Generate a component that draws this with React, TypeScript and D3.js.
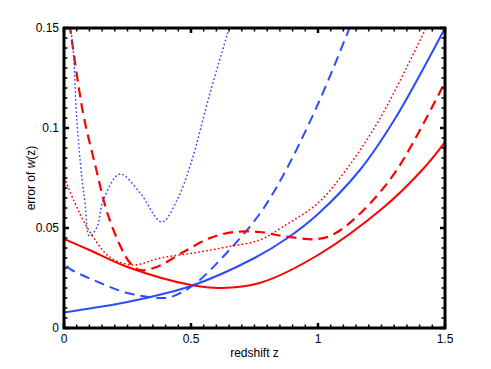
import React, { useEffect } from "react";
import * as d3 from "d3";

const W = 491;
const H = 369;
const margin = { left: 64, right: 46, top: 28, bottom: 41 };

// [redshift z, error of w(z)]
const blueSolid: [number, number][] = [
  [0, 0.0077], [0.1, 0.0098], [0.25, 0.013], [0.5, 0.021], [0.75, 0.035], [0.88, 0.045],
  [1.0, 0.057], [1.165, 0.079], [1.3, 0.104], [1.5, 0.15],
];
const redSolid: [number, number][] = [
  [0, 0.0445], [0.1, 0.039], [0.25, 0.0305], [0.5, 0.0215], [0.62, 0.02], [0.77, 0.0225],
  [1.0, 0.0365], [1.26, 0.0605], [1.41, 0.079], [1.5, 0.093],
];
const blueDashed: [number, number][] = [
  [0, 0.0], [0.004, 0.031], [0.03, 0.029], [0.115, 0.024], [0.25, 0.0175], [0.37, 0.015],
  [0.42, 0.0155], [0.51, 0.0215], [0.64, 0.0375], [0.77, 0.057], [0.87, 0.078],
  [1.0, 0.112], [1.11, 0.1455], [1.13, 0.152],
];
const redDashed: [number, number][] = [
  [0.022, 0.152], [0.075, 0.1075], [0.12, 0.083], [0.18, 0.054], [0.26, 0.0325], [0.3, 0.029],
  [0.365, 0.0305], [0.47, 0.038], [0.575, 0.045], [0.67, 0.048], [0.77, 0.048], [0.86, 0.046],
  [1.0, 0.0445], [1.07, 0.0475], [1.18, 0.059], [1.31, 0.079], [1.5, 0.123],
];
const redDotted: [number, number][] = [
  [0, 0.077], [0.006, 0.074], [0.063, 0.057], [0.115, 0.0455], [0.18, 0.0355], [0.27, 0.0315],
  [0.38, 0.035], [0.51, 0.0375], [0.64, 0.0405], [0.77, 0.044], [0.86, 0.0505], [1.0, 0.0625],
  [1.11, 0.079], [1.245, 0.105], [1.425, 0.15],
];
const blueDotted: [number, number][] = [
  [0.025, 0.152], [0.037, 0.1375], [0.05, 0.105], [0.07, 0.0755], [0.083, 0.0625], [0.1, 0.046],
  [0.13, 0.0505], [0.155, 0.064], [0.22, 0.077], [0.3, 0.0675], [0.385, 0.053], [0.445, 0.064],
  [0.5, 0.0825], [0.575, 0.1175], [0.655, 0.152],
];

const xTicks = [0, 0.5, 1, 1.5];
const xTickLabels = ["0", "0.5", "1", "1.5"];
const yTicks = [0, 0.05, 0.1, 0.15];
const yTickLabels = ["0", "0.05", "0.1", "0.15"];

const RED = "#ff0000";
const BLUE = "#2b4cff";

const series = [
  { data: blueSolid, color: BLUE, dash: "", width: 2, dotted: false },
  { data: redSolid, color: RED, dash: "", width: 2, dotted: false },
  { data: blueDashed, color: BLUE, dash: "10,6", width: 2, dotted: false },
  { data: redDashed, color: RED, dash: "10,6", width: 2.2, dotted: false },
  { data: redDotted, color: RED, dash: "0.3,3.7", width: 1.6, dotted: true },
  { data: blueDotted, color: BLUE, dash: "0.3,3.7", width: 1.6, dotted: true },
];

export default function App() {
  useEffect(() => {
    document.body.style.margin = "0";
  }, []);

  const x = d3.scaleLinear().domain([0, 1.5]).range([margin.left, W - margin.right]);
  const y = d3.scaleLinear().domain([0, 0.15]).range([H - margin.bottom, margin.top]);
  const line = d3
    .line<[number, number]>()
    .x((d) => x(d[0]))
    .y((d) => y(d[1]))
    .curve(d3.curveCatmullRom.alpha(0.5));

  const x0 = x(0), x1 = x(1.5), y0 = y(0), y1 = y(0.15);
  const xMinor = d3.range(0, 1.5001, 0.05);
  const yMinor = d3.range(0, 0.15001, 0.005);
  const font = "'Liberation Sans', Arial, sans-serif";

  return (
    <svg width={W} height={H} style={{ display: "block", background: "#fff" }}>
      <defs>
        <clipPath id="plot">
          <rect x={x0} y={y1} width={x1 - x0} height={y0 - y1} />
        </clipPath>
      </defs>
      <g clipPath="url(#plot)">
        {series.map((s, i) => (
          <path
            key={i}
            d={line(s.data) || ""}
            fill="none"
            stroke={s.color}
            strokeWidth={s.width}
            strokeDasharray={s.dash || undefined}
            strokeLinecap={s.dotted ? "round" : "butt"}
          />
        ))}
      </g>
      {/* minor ticks */}
      <g stroke="#000" strokeWidth={1.5}>
        {xMinor.map((t, i) => (
          <g key={"xm" + i}>
            <line x1={x(t)} x2={x(t)} y1={y0} y2={y0 - 3.5} />
            <line x1={x(t)} x2={x(t)} y1={y1} y2={y1 + 3.5} />
          </g>
        ))}
        {yMinor.map((t, i) => (
          <g key={"ym" + i}>
            <line x1={x0} x2={x0 + 3.5} y1={y(t)} y2={y(t)} />
            <line x1={x1} x2={x1 - 3.5} y1={y(t)} y2={y(t)} />
          </g>
        ))}
      </g>
      {/* major ticks */}
      <g stroke="#000" strokeWidth={2.5}>
        {xTicks.map((t, i) => (
          <g key={"xM" + i}>
            <line x1={x(t)} x2={x(t)} y1={y0} y2={y0 - 5} />
            <line x1={x(t)} x2={x(t)} y1={y1} y2={y1 + 5} />
          </g>
        ))}
        {yTicks.map((t, i) => (
          <g key={"yM" + i}>
            <line x1={x0} x2={x0 + 5} y1={y(t)} y2={y(t)} />
            <line x1={x1} x2={x1 - 5} y1={y(t)} y2={y(t)} />
          </g>
        ))}
      </g>
      <rect x={x0} y={y1} width={x1 - x0} height={y0 - y1} fill="none" stroke="#000" strokeWidth={3} />
      <g fontFamily={font} fontSize={12} fill="#000">
        {xTicks.map((t, i) => (
          <text key={"xl" + i} x={x(t)} y={y0 + 15} textAnchor="middle">
            {xTickLabels[i]}
          </text>
        ))}
        {yTicks.map((t, i) => (
          <text key={"yl" + i} x={x0 - 5} y={y(t) + 4} textAnchor="end">
            {yTickLabels[i]}
          </text>
        ))}
        <text x={(x0 + x1) / 2} y={y0 + 29} textAnchor="middle">
          redshift z
        </text>
        <text
          transform={`translate(${35},${(y0 + y1) / 2}) rotate(-90)`}
          textAnchor="middle"
        >
          error of <tspan fontStyle="italic">w</tspan>(z)
        </text>
      </g>
    </svg>
  );
}
